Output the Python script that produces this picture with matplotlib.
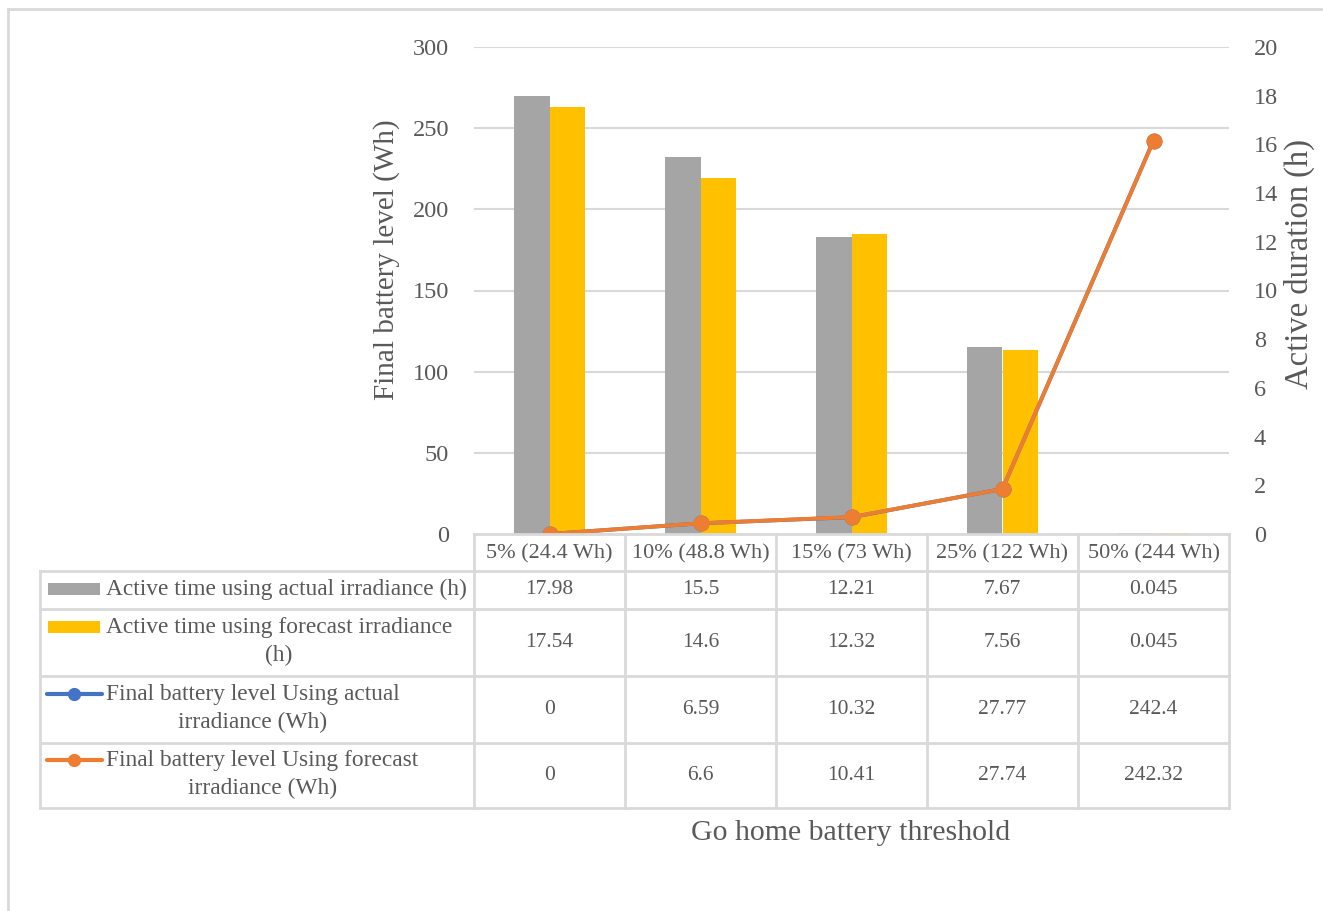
import matplotlib
matplotlib.use("Agg")
import matplotlib.pyplot as plt
from matplotlib.lines import Line2D
from matplotlib.patches import Rectangle
from matplotlib.transforms import blended_transform_factory

# ---- data ----
categories = ["5% (24.4 Wh)", "10% (48.8 Wh)", "15% (73 Wh)", "25% (122 Wh)", "50% (244 Wh)"]
active_actual = [17.98, 15.5, 12.21, 7.67, 0.045]
active_forecast = [17.54, 14.6, 12.32, 7.56, 0.045]
battery_actual = [0, 6.59, 10.32, 27.77, 242.4]
battery_forecast = [0, 6.6, 10.41, 27.74, 242.32]
series_names = [
    "Active time using actual irradiance (h)",
    "Active time using forecast irradiance\n(h)",
    "Final battery level Using actual\nirradiance (Wh)",
    "Final battery level Using forecast\nirradiance (Wh)",
]
left_ticks = [0, 50, 100, 150, 200, 250, 300]
right_ticks = [0, 2, 4, 6, 8, 10, 12, 14, 16, 18, 20]

GRAY = "#A5A5A5"
YELLOW = "#FFC000"
BLUE = "#4472C4"
ORANGE = "#ED7D31"
GRID = "#D9D9D9"
TXT = "#595959"

plt.rcParams["font.family"] = ["Liberation Serif", "DejaVu Serif"]

W, H = 1323, 911
fig = plt.figure(figsize=(W / 100, H / 100), dpi=100)


def fx(x):
    return x / W


def fy(y):
    return 1 - y / H


# plot area
L, R, T, B = 474, 1229, 47, 534
ax = fig.add_axes([fx(L), fy(B), fx(R) - fx(L), fy(T) - fy(B)])
ax2 = ax.twinx()

n = len(categories)
xs = list(range(n))
bw = 0.235

# bars on the hours scale (ax), lines on the Wh scale (ax2)
ax.set_xlim(-0.5, n - 0.5)
ax.set_ylim(0, 20)
ax2.set_ylim(0, 300)

# horizontal gridlines follow the Wh scale but sit behind the bars
gtrans = blended_transform_factory(ax.transAxes, ax2.transData)
for v in left_ticks[1:]:
    ax.add_line(Line2D([0, 1], [v, v], transform=gtrans, color=GRID, lw=1.5, zorder=0))

ax.bar([x - bw / 2 for x in xs], active_actual, width=bw, color=GRAY, zorder=2)
ax.bar([x + bw / 2 for x in xs], active_forecast, width=bw, color=YELLOW, zorder=2)

ax2.plot(xs, battery_actual, color=BLUE, lw=2.8, marker="o", ms=10.5, zorder=3)
ax2.plot(xs, battery_forecast, color=ORANGE, lw=2.8, marker="o", ms=10.5, zorder=4)

ax.yaxis.tick_right()
ax.set_yticks(right_ticks)
ax2.yaxis.tick_left()
ax2.set_yticks(left_ticks)
ax.set_xticks([])
for a in (ax, ax2):
    a.tick_params(length=0, labelsize=17.5, colors=TXT, pad=18)
    for s in a.spines.values():
        s.set_visible(False)
    a.patch.set_visible(False)
ax2.tick_params(axis="y", labelleft=True, labelright=False)
ax.tick_params(axis="y", labelright=True, labelleft=False)

fig.text(fx(387), fy(260), "Final battery level (Wh)", rotation=90, ha="center", va="center",
         fontsize=21, color=TXT)
fig.text(fx(1299), fy(264), "Active duration (h)", rotation=90, ha="center", va="center",
         fontsize=23.5, color=TXT)

# ---- data table ----
col_edges = [L + i * (R - L) / n for i in range(n + 1)]
row_edges = [B, 571, 609, 676, 743, 808]
TL = 40


def hline(y, x0, x1):
    fig.add_artist(Line2D([fx(x0), fx(x1)], [fy(y), fy(y)], color=GRID, lw=2))


def vline(x, y0, y1):
    fig.add_artist(Line2D([fx(x), fx(x)], [fy(y0), fy(y1)], color=GRID, lw=2))


hline(B, L, R)
for y in row_edges[1:]:
    hline(y, TL, R)
for x in col_edges:
    vline(x, B, row_edges[-1])
vline(TL, row_edges[1], row_edges[-1])

for i, c in enumerate(categories):
    cx = (col_edges[i] + col_edges[i + 1]) / 2
    fig.text(fx(cx), fy((row_edges[0] + row_edges[1]) / 2 + 1), c, ha="center", va="center",
             fontsize=16, color=TXT)

rows = [active_actual, active_forecast, battery_actual, battery_forecast]
for r, vals in enumerate(rows):
    cy = (row_edges[r + 1] + row_edges[r + 2]) / 2
    for i, v in enumerate(vals):
        cx = (col_edges[i] + col_edges[i + 1]) / 2
        fig.text(fx(cx), fy(cy), f"{v:g}", ha="center", va="center", fontsize=15.5, color=TXT)

# legend keys inside the first column
key_colors = [GRAY, YELLOW, BLUE, ORANGE]
first_line_y = [589, 627, 694, 760]
for r in range(4):
    yk = first_line_y[r]
    if r < 2:
        fig.add_artist(Rectangle((fx(48), fy(yk + 6)), fx(100) - fx(48), fy(yk - 6) - fy(yk + 6),
                                 color=key_colors[r], lw=0))
    else:
        fig.add_artist(Line2D([fx(47), fx(102)], [fy(yk), fy(yk)], color=key_colors[r], lw=3,
                              solid_capstyle="round"))
        fig.add_artist(Line2D([fx(74)], [fy(yk)], color=key_colors[r], marker="o", ms=8.5, lw=0))
    nlines = series_names[r].count("\n") + 1
    cyc = yk + (nlines - 1) * 14.5
    fig.text(fx(106), fy(cyc), series_names[r], ha="left", va="center",
             multialignment="center", fontsize=16.8, color=TXT, linespacing=1.45)

fig.text(fx(851), fy(833), "Go home battery threshold", ha="center", va="center",
         fontsize=21.5, color=TXT)

# outer chart border
fig.add_artist(Line2D([fx(8), fx(W)], [fy(9), fy(9)], color=GRID, lw=2))
fig.add_artist(Line2D([fx(8), fx(8)], [fy(9), fy(H)], color=GRID, lw=2))

fig.savefig("out.png", dpi=100, facecolor="white")
